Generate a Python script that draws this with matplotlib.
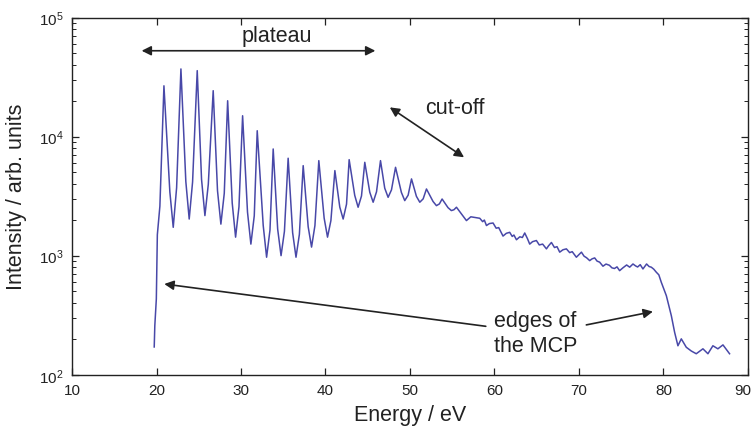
import numpy as np
import matplotlib
matplotlib.use("Agg")
import matplotlib.pyplot as plt
import matplotlib.transforms as mtransforms
from matplotlib.ticker import LogLocator, NullFormatter, FixedLocator

plt.rcParams['font.family'] = ['Liberation Sans', 'DejaVu Sans']

# Rising edge of the spectrum (MCP low-energy edge)
onset_energy = [19.73, 19.80, 19.98, 20.10, 20.40]
onset_intensity = [171, 258, 433, 1500, 2600]

# Harmonic peaks
peak_energy = [20.88, 22.89, 24.82, 26.71, 28.42, 30.19, 31.92, 33.81, 35.58, 37.36,
               39.21, 41.11, 42.80, 44.65, 46.51, 48.29, 50.18, 51.95, 53.80, 55.50, 57.20]
peak_intensity = [26700, 37000, 35800, 24300, 20000, 14960, 11200, 7870, 6580, 5700,
                  6280, 5180, 6400, 6080, 6280, 5520, 4410, 3630, 2990, 2550, 2120]

# Minima between harmonics
valley_energy = [21.98, 23.87, 25.73, 27.62, 29.36, 31.17, 33.03, 34.74, 36.51, 38.35,
                 40.24, 42.09, 43.86, 45.64, 47.41, 49.38, 51.16, 53.13, 54.90, 56.68]
valley_intensity = [1730, 2030, 2170, 1840, 1430, 1250, 970, 1000, 970, 1180,
                    1430, 2030, 2550, 2810, 3090, 2900, 2810, 2630, 2390, 1970]

# Rounded walls on either side of each minimum
flank_energy = [21.58, 22.38, 23.47, 24.27, 25.33, 26.13, 27.22, 28.02, 28.96, 29.76,
                30.77, 31.57, 32.63, 33.43, 34.34, 35.14, 36.11, 36.91, 37.95, 38.75,
                39.84, 40.64, 41.69, 42.49, 43.46, 44.26, 45.24, 46.04, 47.01, 47.81,
                48.98, 49.78, 50.76, 51.56, 52.73, 53.48, 54.50, 55.20]
flank_intensity = [3430, 3720, 4200, 4160, 4380, 3970, 3510, 3340, 2770, 2570,
                   2320, 2160, 1790, 1640, 1670, 1600, 1560, 1510, 1750, 1790,
                   2070, 1970, 2560, 2710, 3210, 3170, 3410, 3440, 3690, 3570,
                   3400, 3220, 3150, 3000, 2850, 2720, 2530, 2430]

# Slowly decaying cut-off region
tail_energy = [58.26, 58.60, 58.80, 59.05, 59.40, 59.83, 60.20, 60.50, 60.80, 61.01,
               61.40, 61.80, 62.10, 62.30, 62.60, 63.00, 63.30, 63.58, 63.90, 64.17,
               64.50, 64.96, 65.30, 65.70, 66.15, 66.40, 66.74, 67.10, 67.40, 67.72,
               68.10, 68.51, 68.90, 69.20, 69.69, 70.00, 70.29, 70.60, 70.90, 71.27,
               71.55, 71.86, 72.14, 72.44, 72.84, 73.20, 73.60, 73.90, 74.20, 74.50,
               74.81, 75.20, 75.64, 76.00, 76.39, 76.70, 76.94, 77.25, 77.57, 78.00,
               78.30, 78.56, 78.85, 79.15, 79.45]
tail_intensity = [2060, 1930, 1990, 1790, 1860, 1880, 1700, 1720, 1560, 1460,
                  1540, 1570, 1450, 1490, 1360, 1440, 1420, 1550, 1390, 1250,
                  1310, 1340, 1230, 1250, 1140, 1210, 1290, 1170, 1190, 1070,
                  1120, 1140, 1060, 1080, 970, 1020, 1070, 990, 960, 908,
                  940, 957, 900, 882, 815, 850, 830, 790, 780, 805,
                  748, 790, 835, 800, 851, 820, 803, 840, 773, 851,
                  810, 800, 770, 726, 690]

# High-energy MCP edge and background
edge_energy = [79.74, 80.34, 80.93, 81.32, 81.71, 82.11, 82.70, 83.30, 83.88, 84.67,
               85.26, 85.85, 86.44, 87.04, 87.82]
edge_intensity = [598, 461, 313, 227, 175, 200, 170, 158, 150, 165,
                  150, 175, 165, 178, 150]

x_ticks = [10, 20, 30, 40, 50, 60, 70, 80, 90]

energy = np.concatenate([onset_energy, peak_energy, valley_energy, flank_energy,
                         tail_energy, edge_energy])
intensity = np.concatenate([onset_intensity, peak_intensity, valley_intensity,
                            flank_intensity, tail_intensity, edge_intensity])
order = np.argsort(energy, kind="stable")
energy = energy[order]
intensity = intensity[order]

fig = plt.figure(figsize=(7.54, 4.31), dpi=100)
ax = fig.add_axes([0.0955, 0.1283, 0.8965, 0.8287])

ax.plot(energy, intensity, color='#4848a8', lw=1.1, solid_joinstyle='round')

ax.set_yscale('log')
ax.set_xlim(10, 90)
ax.set_ylim(1e2, 1e5)
ax.xaxis.set_major_locator(FixedLocator(x_ticks))
ax.yaxis.set_major_locator(LogLocator(base=10))
ax.yaxis.set_minor_locator(LogLocator(base=10, subs=np.arange(2, 10)))
ax.yaxis.set_minor_formatter(NullFormatter())

ax.tick_params(axis='both', which='both', direction='in', top=True, right=True,
               colors='#222222', labelsize=11)
ax.tick_params(axis='both', which='major', length=5, width=0.9, pad=6)
ax.tick_params(axis='y', which='minor', length=3, width=0.7)
for s in ax.spines.values():
    s.set_linewidth(1.0)
    s.set_color('#222222')

# keep the last energy label inside the figure
fig.canvas.draw()
last_label = ax.get_xticklabels()[-1]
last_label.set_transform(last_label.get_transform() +
                         mtransforms.ScaledTranslation(-5 / 100, 0, fig.dpi_scale_trans))

ax.set_xlabel('Energy / eV', fontsize=15.5, labelpad=5, color='#222222')
ax.set_ylabel('Intensity / arb. units', fontsize=15.5, labelpad=9, color='#222222')

arrow_kw = dict(arrowstyle='<|-|>', color='#222222', lw=1.2, mutation_scale=14,
                shrinkA=0, shrinkB=0)

# plateau
ax.annotate('', xy=(18.24, 52600), xytext=(45.9, 52600), arrowprops=arrow_kw)
ax.text(34.25, 70000, 'plateau', fontsize=15.5, ha='center', va='center', color='#222222')

# cut-off
ax.annotate('', xy=(47.61, 17600), xytext=(56.4, 6700), arrowprops=arrow_kw)
ax.text(55.3, 17700, 'cut-off', fontsize=15.5, ha='center', va='center', color='#222222')

# MCP edges
single_kw = dict(arrowstyle='-|>', color='#222222', lw=1.2, mutation_scale=14,
                 shrinkA=0, shrinkB=0)
ax.text(0.624, 0.117, 'edges of\nthe MCP', transform=ax.transAxes, fontsize=15.5,
        ha='left', va='center', linespacing=1.2, color='#222222')
ax.annotate('', xy=(20.92, 578), xytext=(58.97, 255), arrowprops=single_kw)
ax.annotate('', xy=(78.75, 339), xytext=(70.87, 262), arrowprops=single_kw)

fig.savefig('out.png', dpi=100)
